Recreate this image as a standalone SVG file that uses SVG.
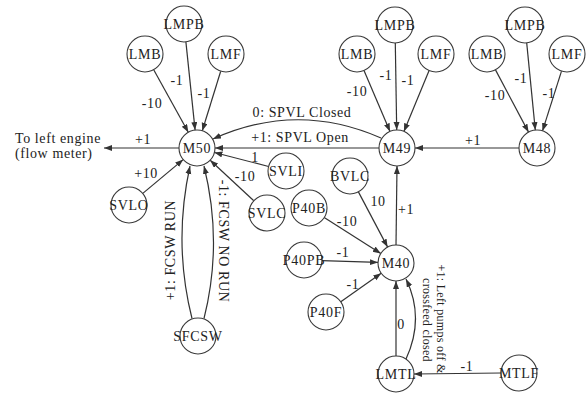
<svg xmlns="http://www.w3.org/2000/svg" width="588" height="396" viewBox="0 0 588 396">
<style>
.n{fill:#fff;stroke:#3a3a3a;stroke-width:1.1}
.t{font-family:"Liberation Serif","Times New Roman",serif;font-size:14px;fill:#222;letter-spacing:0.7px;text-anchor:middle}
.l{font-family:"Liberation Serif","Times New Roman",serif;font-size:14px;fill:#222;letter-spacing:0.6px;text-anchor:middle}
.s{font-family:"Liberation Serif","Times New Roman",serif;font-size:12px;fill:#222;letter-spacing:0.3px;text-anchor:middle}
.e{fill:none;stroke:#333;stroke-width:1.2;marker-end:url(#ah)}
</style>
<defs>
<marker id="ah" markerUnits="userSpaceOnUse" markerWidth="9" markerHeight="7" refX="8" refY="3" orient="auto">
<path d="M0,0 L8,3 L0,6 z" fill="#333"/>
</marker>
</defs>
<rect width="588" height="396" fill="#fff"/>
<g id="connectors">
<line class="e" x1="153.7" y1="69.8" x2="188.3" y2="132.3"/>
<line class="e" x1="185.9" y1="41.9" x2="195.1" y2="130.1"/>
<line class="e" x1="220.7" y1="71.2" x2="202.3" y2="130.8"/>
<line class="e" x1="179" y1="148" x2="104" y2="148"/>
<line class="e" x1="142.8" y1="193.4" x2="183.2" y2="159.6"/>
<line class="e" x1="253.8" y1="200.7" x2="210.2" y2="160.3"/>
<line class="e" x1="268.6" y1="166.5" x2="214.4" y2="152.5"/>
<path class="e" d="M192,318.5 Q173,243 190,166"/>
<path class="e" d="M204,318.5 Q223,243 204,166"/>
<line class="e" x1="379" y1="148" x2="215" y2="148"/>
<path class="e" d="M381,138 Q297,101 213,139"/>
<line class="e" x1="364" y1="70.6" x2="390" y2="131.4"/>
<line class="e" x1="395.3" y1="43" x2="396.7" y2="130"/>
<line class="e" x1="429.1" y1="70.6" x2="403.9" y2="131.4"/>
<line class="e" x1="519" y1="148" x2="415" y2="148"/>
<line class="e" x1="396" y1="245" x2="397" y2="166"/>
<line class="e" x1="495.5" y1="69.9" x2="528.5" y2="132.1"/>
<line class="e" x1="526.7" y1="42.9" x2="535.3" y2="130.1"/>
<line class="e" x1="561.5" y1="71.1" x2="542.5" y2="130.9"/>
<line class="e" x1="358.4" y1="191.9" x2="387.6" y2="247.1"/>
<line class="e" x1="324.2" y1="217.6" x2="380.8" y2="253.4"/>
<line class="e" x1="322" y1="260.6" x2="378" y2="262.4"/>
<line class="e" x1="340.8" y1="301.7" x2="381.2" y2="273.3"/>
<line class="e" x1="396" y1="356" x2="396" y2="281"/>
<path class="e" d="M406,359 Q425,318 406,279"/>
<line class="e" x1="501" y1="373" x2="414" y2="374"/>
<g id="edge-labels">
<text class="l" x="152" y="108">-10</text>
<text class="l" x="177" y="85">-1</text>
<text class="l" x="204" y="98">-1</text>
<text class="l" x="143" y="144">+1</text>
<text class="l" x="146" y="178">+10</text>
<text class="l" x="245" y="181">-10</text>
<text class="l" x="255" y="162">1</text>
<text class="l" transform="translate(175,250) rotate(-90)">+1: FCSW RUN</text>
<text class="l" transform="translate(219,241) rotate(90)">-1: FCSW NO RUN</text>
<text class="l" x="302" y="117">0: SPVL Closed</text>
<text class="l" x="300" y="142">+1: SPVL Open</text>
<text class="l" x="357" y="96">-10</text>
<text class="l" x="386" y="80">-1</text>
<text class="l" x="408" y="85">-1</text>
<text class="l" x="473" y="145">+1</text>
<text class="l" x="495" y="100">-10</text>
<text class="l" x="521" y="83">-1</text>
<text class="l" x="549" y="98">-1</text>
<text class="l" x="406" y="214">+1</text>
<text class="l" x="378" y="206">10</text>
<text class="l" x="347" y="226">-10</text>
<text class="l" x="343" y="257">-1</text>
<text class="l" x="353" y="289">-1</text>
<text class="l" x="401" y="329">0</text>
<text class="l" x="467" y="371">-1</text>
<text class="s" transform="translate(437,319) rotate(90)">+1: Left pumps off &amp;</text>
<text class="s" transform="translate(423,320) rotate(90)">crossfeed closed</text>
</g>
</g>
<g id="out-label">
<text class="l" x="15" y="143" style="text-anchor:start">To left engine</text>
<text class="l" x="15" y="158" style="text-anchor:start">(flow meter)</text>
</g>
<g id="M50"><circle class="n" cx="197" cy="148" r="18"/><text class="t" x="197" y="153">M50</text></g>
<g id="LMB_M50"><circle class="n" cx="145" cy="54" r="18"/><text class="t" x="145" y="59">LMB</text></g>
<g id="LMPB_M50"><circle class="n" cx="184" cy="24" r="18"/><text class="t" x="184" y="29">LMPB</text></g>
<g id="LMF_M50"><circle class="n" cx="226" cy="54" r="18"/><text class="t" x="226" y="59">LMF</text></g>
<g id="SVLO"><circle class="n" cx="129" cy="205" r="18"/><text class="t" x="129" y="210">SVLO</text></g>
<g id="SVLC"><circle class="n" cx="267" cy="213" r="18"/><text class="t" x="267" y="218">SVLC</text></g>
<g id="SVLI"><circle class="n" cx="286" cy="171" r="18"/><text class="t" x="286" y="176">SVLI</text></g>
<g id="SFCSW"><circle class="n" cx="198" cy="336" r="18"/><text class="t" x="198" y="341">SFCSW</text></g>
<g id="M49"><circle class="n" cx="397" cy="148" r="18"/><text class="t" x="397" y="153">M49</text></g>
<g id="LMB_M49"><circle class="n" cx="357" cy="54" r="18"/><text class="t" x="357" y="59">LMB</text></g>
<g id="LMPB_M49"><circle class="n" cx="395" cy="25" r="18"/><text class="t" x="395" y="30">LMPB</text></g>
<g id="LMF_M49"><circle class="n" cx="436" cy="54" r="18"/><text class="t" x="436" y="59">LMF</text></g>
<g id="M48"><circle class="n" cx="537" cy="148" r="18"/><text class="t" x="537" y="153">M48</text></g>
<g id="LMB_M48"><circle class="n" cx="487" cy="54" r="18"/><text class="t" x="487" y="59">LMB</text></g>
<g id="LMPB_M48"><circle class="n" cx="525" cy="25" r="18"/><text class="t" x="525" y="30">LMPB</text></g>
<g id="LMF_M48"><circle class="n" cx="567" cy="54" r="18"/><text class="t" x="567" y="59">LMF</text></g>
<g id="M40"><circle class="n" cx="396" cy="263" r="18"/><text class="t" x="396" y="268">M40</text></g>
<g id="BVLC"><circle class="n" cx="350" cy="176" r="18"/><text class="t" x="350" y="181">BVLC</text></g>
<g id="P40B"><circle class="n" cx="309" cy="208" r="18"/><text class="t" x="309" y="213">P40B</text></g>
<g id="P40PB"><circle class="n" cx="304" cy="260" r="18"/><text class="t" x="304" y="265">P40PB</text></g>
<g id="P40F"><circle class="n" cx="326" cy="312" r="18"/><text class="t" x="326" y="317">P40F</text></g>
<g id="LMTL"><circle class="n" cx="396" cy="374" r="18"/><text class="t" x="396" y="379">LMTL</text></g>
<g id="MTLF"><circle class="n" cx="519" cy="373" r="18"/><text class="t" x="519" y="378">MTLF</text></g>
</svg>
